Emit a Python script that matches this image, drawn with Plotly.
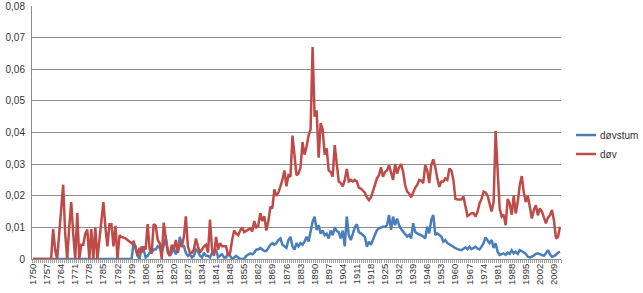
import plotly.graph_objects as go

years = list(range(1750, 2013))

dov = [
    # 1750-1759
    0, 0, 0, 0, 0, 0, 0, 0, 0, 0,
    # 1760-1769
    0.0095, 0.003, 0, 0.008, 0.016, 0.0235, 0.008, 0, 0.01, 0.018,
    # 1770-1779
    0.008, 0, 0.0145, 0, 0.0045, 0.0045, 0.008, 0.0093, 0, 0.0095,
    # 1780-1789
    0, 0.01, 0, 0.006, 0.01, 0.018, 0.01, 0.004, 0.011, 0.011,
    # 1790-1799
    0.004, 0.0105, 0, 0.0075, 0.007, 0.0068, 0.0065, 0.006, 0.0055, 0.005,
    # 1800-1809
    0.0055, 0.003, 0.001, 0.0035, 0.002, 0.004, 0.003, 0.011, 0.003, 0.002,
    # 1810-1819
    0.011, 0.0105, 0.006, 0.005, 0, 0.0115, 0.007, 0.002, 0.001, 0.0045,
    # 1820-1829
    0.003, 0.006, 0.002, 0.005, 0.004, 0.007, 0.0135, 0.004, 0.002, 0.002,
    # 1830-1839
    0.003, 0.0065, 0.004, 0.002, 0.003, 0.004, 0.0045, 0.002, 0.0125, 0.003,
    # 1840-1849
    0.001, 0.007, 0.003, 0.005, 0.004, 0.004, 0.004, 0.001, 0.002, 0.006,
    # 1850-1859
    0.009, 0.008, 0.0075, 0.009, 0.01, 0.0085, 0.009, 0.0095, 0.0097, 0.0087,
    # 1860-1869
    0.012, 0.01, 0.0105, 0.0145, 0.012, 0.0135, 0.009, 0.012, 0.0165, 0.016,
    # 1870-1879
    0.022, 0.02, 0.021, 0.023, 0.025, 0.028, 0.023, 0.0265, 0.026, 0.039,
    # 1880-1889
    0.033, 0.0265, 0.027, 0.029, 0.037, 0.033, 0.0355, 0.039, 0.041, 0.067,
    # 1890-1899
    0.045, 0.047, 0.032, 0.043, 0.041, 0.033, 0.035, 0.028, 0.0275, 0.026,
    # 1900-1909
    0.036, 0.030, 0.0245, 0.024, 0.023, 0.025, 0.0285, 0.0245, 0.025, 0.0245,
    # 1910-1919
    0.025, 0.0245, 0.0225, 0.0223, 0.0215, 0.021, 0.0195, 0.0186, 0.0195, 0.0218,
    # 1920-1929
    0.0234, 0.0255, 0.0265, 0.029, 0.026, 0.0275, 0.028, 0.0297, 0.027, 0.025,
    # 1930-1939
    0.030, 0.027, 0.029, 0.030, 0.0276, 0.0234, 0.0213, 0.0207, 0.0195, 0.0213,
    # 1940-1949
    0.0225, 0.0234, 0.025, 0.0248, 0.024, 0.0297, 0.028, 0.024, 0.0297, 0.0315,
    # 1950-1959
    0.029, 0.0255, 0.0228, 0.0245, 0.0245, 0.0255, 0.025, 0.0286, 0.028, 0.025,
    # 1960-1969
    0.019, 0.0188, 0.0188, 0.0188, 0.0198, 0.0165, 0.0136, 0.014, 0.0145, 0.0145,
    # 1970-1979
    0.0134, 0.015, 0.0176, 0.019, 0.0213, 0.021, 0.020, 0.0175, 0.015, 0.018,
    # 1980-1989
    0.0405, 0.028, 0.016, 0.0134, 0.014, 0.0107, 0.019, 0.0175, 0.014, 0.020,
    # 1990-1999
    0.0144, 0.018, 0.0234, 0.0262, 0.021, 0.018, 0.020, 0.0165, 0.0128, 0.0155,
    # 2000-2009
    0.017, 0.0138, 0.016, 0.015, 0.0134, 0.0113, 0.0131, 0.0138, 0.0155, 0.0122,
    # 2010-2012
    0.0065, 0.007, 0.0102,
]

dovstum = [
    # 1750-1799
    0, 0, 0, 0, 0, 0, 0, 0, 0, 0,
    0, 0, 0, 0, 0, 0, 0, 0, 0, 0,
    0, 0, 0, 0, 0, 0, 0, 0, 0, 0,
    0, 0, 0, 0, 0, 0, 0, 0, 0, 0,
    0, 0, 0, 0, 0, 0, 0, 0, 0, 0,
    # 1800-1809
    0.005, 0.004, 0.001, 0.0, 0.004, 0.003, 0.0005, 0.001, 0.002, 0.002,
    # 1810-1819
    0.003, 0.003, 0.004, 0.0035, 0.002, 0.004, 0.0065, 0.003, 0.001, 0.002,
    # 1820-1829
    0.0035, 0.0015, 0.003, 0.007, 0.004, 0.004, 0.002, 0.001, 0.0015, 0.0005,
    # 1830-1839
    0.001, 0.003, 0.0025, 0.001, 0.0005, 0.002, 0.001, 0.001, 0.0005, 0.002,
    # 1840-1849
    0.002, 0.003, 0.0005, 0.001, 0.0015, 0.0005, 0.0005, 0.002, 0.001, 0,
    # 1850-1859
    0.0005, 0.001, 0.0005, 0, 0, 0, 0.001, 0.0015, 0.0018, 0.0015,
    # 1860-1869
    0.002, 0.003, 0.003, 0.0035, 0.003, 0.0025, 0.0025, 0.0035, 0.0045, 0.005,
    # 1870-1879
    0.0045, 0.005, 0.006, 0.0065, 0.0045, 0.004, 0.0035, 0.006, 0.007, 0.004,
    # 1880-1889
    0.003, 0.005, 0.004, 0.005, 0.0045, 0.0055, 0.007, 0.0055, 0.009, 0.0118,
    # 1890-1899
    0.0134, 0.0092, 0.0107, 0.008, 0.009, 0.0075, 0.008, 0.0065, 0.009, 0.0075,
    # 1900-1909
    0.010, 0.0088, 0.0085, 0.0065, 0.009, 0.004, 0.0134, 0.0075, 0.006, 0.008,
    # 1910-1919
    0.010, 0.011, 0.0085, 0.0081, 0.0075, 0.007, 0.0039, 0.0055, 0.0045, 0.006,
    # 1920-1929
    0.0073, 0.0092, 0.0097, 0.01, 0.0102, 0.0102, 0.0107, 0.0139, 0.0092, 0.0134,
    # 1930-1939
    0.0107, 0.0128, 0.0107, 0.0095, 0.0086, 0.0081, 0.0071, 0.0076, 0.0065, 0.0113,
    # 1940-1949
    0.0086, 0.0081, 0.0079, 0.0075, 0.0071, 0.0065, 0.0102, 0.0081, 0.0123, 0.0139,
    # 1950-1959
    0.0076, 0.0081, 0.0076, 0.0071, 0.0055, 0.006, 0.005, 0.0047, 0.0044, 0.0039,
    # 1960-1969
    0.0034, 0.0031, 0.0029, 0.0028, 0.0034, 0.0037, 0.0031, 0.0039, 0.0031, 0.0035,
    # 1970-1979
    0.0039, 0.0033, 0.003, 0.0039, 0.005, 0.0068, 0.006, 0.005, 0.006, 0.0035,
    # 1980-1989
    0.005, 0.0023, 0.0013, 0.0015, 0.0018, 0.0013, 0.002, 0.0016, 0.0028, 0.0018,
    # 1990-1999
    0.0023, 0.0016, 0.0028, 0.0025, 0.002, 0.0016, 0.0007, 0.0005, 0.0007, 0.0013,
    # 2000-2009
    0.0016, 0.0018, 0.0016, 0.0013, 0.001, 0.0018, 0.0028, 0.0015, 0.0007, 0.0009,
    # 2010-2012
    0.0013, 0.002, 0.0023,
]

x_tick_years = list(range(1750, 2013, 7))
y_tick_vals = [0, 0.01, 0.02, 0.03, 0.04, 0.05, 0.06, 0.07, 0.08]
y_tick_text = ["0", "0,01", "0,02", "0,03", "0,04", "0,05", "0,06", "0,07", "0,08"]

series_names = ["døvstum", "døv"]
series_colors = ["#4A7EBB", "#BE4B48"]

font = "Liberation Sans, Arial, sans-serif"

fig = go.Figure()
for name, vals, col in zip(series_names, [dovstum, dov], series_colors):
    fig.add_trace(go.Scatter(x=years, y=vals, mode="lines", name=name,
                             line=dict(color=col, width=2.5), showlegend=False))

# custom legend (short line samples like the original)
legend_y = [0.490, 0.415]
for name, col, ly in zip(series_names, series_colors, legend_y):
    fig.add_shape(type="line", xref="paper", yref="paper",
                  x0=1.0284, x1=1.0662, y0=ly, y1=ly,
                  line=dict(color=col, width=2.5))
    fig.add_annotation(xref="paper", yref="paper", x=1.069, y=ly,
                       xanchor="left", yanchor="middle", text=name,
                       showarrow=False,
                       font=dict(family=font, size=10, color="#333333"))

fig.update_layout(
    width=643, height=293,
    margin=dict(l=32, r=82, t=6, b=34, autoexpand=False),
    paper_bgcolor="white", plot_bgcolor="white",
    font=dict(family=font, size=10, color="#333333"),
    showlegend=False,
    xaxis=dict(
        range=[1749.5, 2012.5],
        tickmode="array", tickvals=x_tick_years,
        ticktext=[str(y) for y in x_tick_years],
        tickangle=-90, tickfont=dict(size=9.5, color="#333333"),
        showgrid=False, zeroline=False,
        showline=True, linecolor="#8c8c8c", linewidth=1,
        ticks="",
        minor=dict(ticks="outside", tick0=1749.5, dtick=1, ticklen=3,
                   tickcolor="#a0a0a0", tickwidth=1, showgrid=False),
    ),
    yaxis=dict(
        range=[0, 0.08],
        tickmode="array", tickvals=y_tick_vals, ticktext=y_tick_text,
        tickfont=dict(size=10, color="#333333"),
        showgrid=True, gridcolor="#8c8c8c", gridwidth=1,
        zeroline=False,
        showline=True, linecolor="#8c8c8c", linewidth=1,
        ticks="", ticklabelstandoff=4,
    ),
)

fig.write_html("out.html")
